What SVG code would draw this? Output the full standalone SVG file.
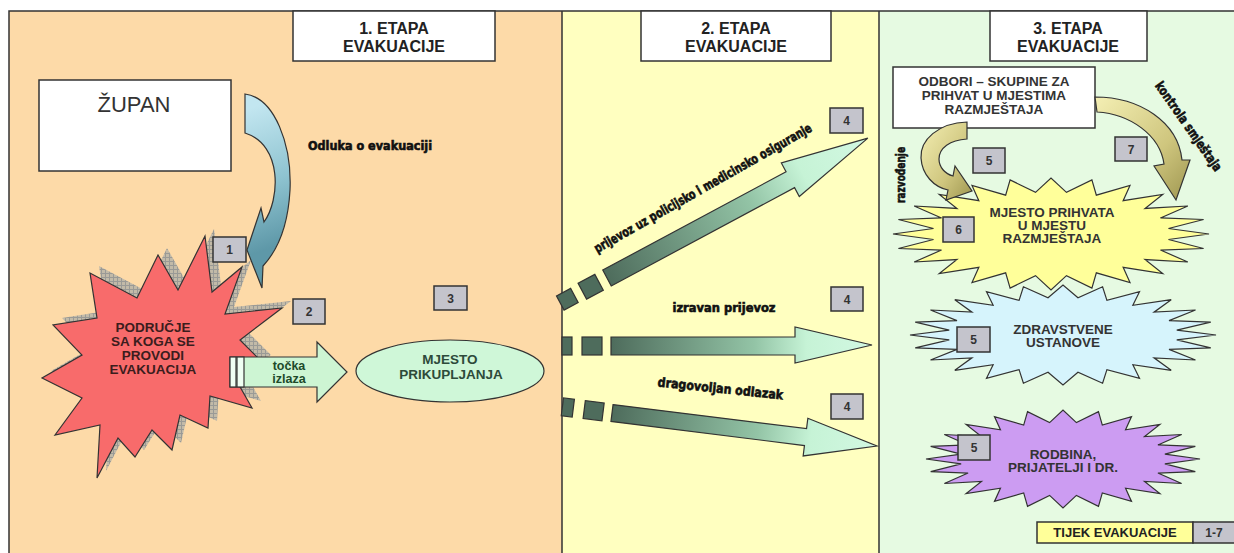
<svg xmlns="http://www.w3.org/2000/svg" width="1234" height="553" viewBox="0 0 1234 553">
<defs>
<style>
.pl{stroke:#333;stroke-width:1.5;fill:none}
.hb{fill:#fff;stroke:#333;stroke-width:1.5}
.ht{font-family:"Liberation Sans",Arial,sans-serif;font-weight:bold;font-size:16px;fill:#222;text-anchor:middle}
.nb{fill:#C4C4CC;stroke:#333;stroke-width:1.5}
.nt{font-family:"Liberation Sans",Arial,sans-serif;font-weight:bold;font-size:12px;fill:#333;text-anchor:middle}
.lb{font-family:"Liberation Sans Narrow","DejaVu Sans Condensed","Liberation Sans",sans-serif;font-weight:bold;font-size:13px;fill:#111;stroke:#111;stroke-width:0.6}
.st{font-family:"Liberation Sans",Arial,sans-serif;font-weight:bold;font-size:13.5px;text-anchor:middle;fill:#333}
.ol{stroke:#333;stroke-width:1.2;stroke-linejoin:miter}
</style>
<path id="star" vector-effect="non-scaling-stroke" stroke="#333" stroke-width="1.2" d="M1,0 L.7436,.0979 L.9659,.2588 L.6929,.287 L.866,.5 L.595,.4566 L.7071,.7071 L.4566,.595 L.5,.866 L.287,.6929 L.2588,.9659 L.0979,.7436 L0,1 L-.0979,.7436 L-.2588,.9659 L-.287,.6929 L-.5,.866 L-.4566,.595 L-.7071,.7071 L-.595,.4566 L-.866,.5 L-.6929,.287 L-.9659,.2588 L-.7436,.0979 L-1,0 L-.7436,-.0979 L-.9659,-.2588 L-.6929,-.287 L-.866,-.5 L-.595,-.4566 L-.7071,-.7071 L-.4566,-.595 L-.5,-.866 L-.287,-.6929 L-.2588,-.9659 L-.0979,-.7436 L0,-1 L.0979,-.7436 L.2588,-.9659 L.287,-.6929 L.5,-.866 L.4566,-.595 L.7071,-.7071 L.595,-.4566 L.866,-.5 L.6929,-.287 L.9659,-.2588 L.7436,-.0979 Z"/>
<path id="redstar" d="M205,236 L212,292 L242,267 L225,314 L282,308 L240,340 L262,362 L235,378 L252,408 L210,396 L208,428 L180,415 L172,450 L152,430 L135,457 L118,438 L97,478 L100,425 L55,435 L82,398 L42,378 L82,355 L53,325 L97,318 L90,273 L137,298 L158,255 L178,290 Z"/>
<pattern id="hatch" width="4" height="4" patternUnits="userSpaceOnUse">
<rect width="4" height="4" fill="#C2BAA8"/>
<path d="M0,0.5 H4 M0.5,0 V4" stroke="#9A9A96" stroke-width="1"/>
</pattern>
<linearGradient id="gBlue" gradientUnits="userSpaceOnUse" x1="245" y1="110" x2="292" y2="240">
<stop offset="0" stop-color="#C2E6F0"/><stop offset="0.55" stop-color="#8EC3D0"/><stop offset="1" stop-color="#5E98A8"/>
</linearGradient>
<linearGradient id="gDiag" gradientUnits="userSpaceOnUse" x1="0" y1="0" x2="296" y2="0">
<stop offset="0" stop-color="#4E6C5C"/><stop offset="0.55" stop-color="#93C4A6"/><stop offset="0.75" stop-color="#C6F3D6"/><stop offset="1" stop-color="#D2F8E2"/>
</linearGradient>
<linearGradient id="gMid" gradientUnits="userSpaceOnUse" x1="611" y1="0" x2="872" y2="0">
<stop offset="0" stop-color="#4E6C5C"/><stop offset="0.55" stop-color="#93C4A6"/><stop offset="0.75" stop-color="#C6F3D6"/><stop offset="1" stop-color="#D2F8E2"/>
</linearGradient>
<linearGradient id="gLow" gradientUnits="userSpaceOnUse" x1="0" y1="0" x2="267" y2="0">
<stop offset="0" stop-color="#4E6C5C"/><stop offset="0.55" stop-color="#93C4A6"/><stop offset="0.75" stop-color="#C6F3D6"/><stop offset="1" stop-color="#D2F8E2"/>
</linearGradient>
<linearGradient id="gYel" x1="0" y1="0" x2="1" y2="1">
<stop offset="0" stop-color="#F4EFB4"/><stop offset="0.6" stop-color="#CFC67E"/><stop offset="1" stop-color="#9E9650"/>
</linearGradient>
</defs>

<!-- panels -->
<g id="panels">
<rect x="9" y="11" width="553" height="545" fill="#FDDAA8"/>
<rect x="562" y="11" width="317" height="545" fill="#FFFFC0"/>
<rect x="879" y="11" width="360" height="545" fill="#E6FAE2"/>
<path class="pl" d="M9,556 V11 H1240 M562,11 V556 M879,11 V556"/>
</g>

<g id="stage1"><rect class="hb" x="293" y="11" width="202" height="50"/><text class="ht" x="394" y="34">1. ETAPA</text><text class="ht" x="394" y="52">EVAKUACIJE</text></g>
<g id="stage2"><rect class="hb" x="641" y="11" width="190" height="50"/><text class="ht" x="736" y="34">2. ETAPA</text><text class="ht" x="736" y="52">EVAKUACIJE</text></g>
<g id="stage3"><rect class="hb" x="990" y="11" width="157" height="50"/><text class="ht" x="1068" y="34">3. ETAPA</text><text class="ht" x="1068" y="52">EVAKUACIJE</text></g>

<g id="zupan"><rect class="hb" x="39" y="80" width="192" height="91"/><text x="134" y="112" font-family="Liberation Sans, Arial, sans-serif" font-size="22" fill="#333" text-anchor="middle">ŽUPAN</text></g>

<!-- area star -->
<g id="area">
<use href="#redstar" transform="translate(9,-7)" fill="url(#hatch)"/>
<use href="#redstar" fill="#F86B6B" class="ol"/>
<g font-family="Liberation Sans, Arial, sans-serif" font-weight="bold" font-size="13.5" fill="#3B1D1D" text-anchor="middle">
<text x="153" y="332">PODRUČJE</text><text x="153" y="346">SA KOGA SE</text><text x="153" y="360">PROVODI</text><text x="153" y="374">EVAKUACIJA</text>
</g>
</g>

<g id="box1"><rect class="nb" x="213" y="237" width="33" height="25"/><text class="nt" x="229.5" y="254">1</text></g>
<g id="box2"><rect class="nb" x="293" y="299" width="32" height="25" fill="#BCBCCC"/><text class="nt" x="309" y="316">2</text></g>
<g id="box3"><rect class="nb" x="434" y="286" width="33" height="24"/><text class="nt" x="450.5" y="303">3</text></g>

<g id="gathering"><ellipse cx="450" cy="371" rx="94" ry="31" fill="#CFF7D8" class="ol"/>
<g font-family="Liberation Sans, Arial, sans-serif" font-weight="bold" font-size="13.5" fill="#2D4A3A" text-anchor="middle"><text x="450" y="364">MJESTO</text><text x="451" y="379">PRIKUPLJANJA</text></g></g>

<!-- panel 3 nodes -->
<g id="odbori"><rect class="hb" x="893" y="67" width="202" height="61"/>
<g font-family="Liberation Sans, Arial, sans-serif" font-weight="bold" font-size="13.5" fill="#333" text-anchor="middle"><text x="994" y="86">ODBORI – SKUPINE ZA</text><text x="994" y="100">PRIHVAT U MJESTIMA</text><text x="994" y="114">RAZMJEŠTAJA</text></g></g>

<g id="prihvat"><use href="#star" transform="translate(1051,234) scale(158,56)" fill="#FFFF9A"/>
<text class="st" x="1052" y="217">MJESTO PRIHVATA</text><text class="st" x="1052" y="230">U MJESTU</text><text class="st" x="1052" y="243">RAZMJEŠTAJA</text></g>

<g id="zdravstvene"><use href="#star" transform="translate(1063,335) scale(153,50)" fill="#D6F4FC"/>
<text class="st" x="1063" y="334">ZDRAVSTVENE</text><text class="st" x="1063" y="347">USTANOVE</text></g>

<g id="rodbina"><use href="#star" transform="translate(1063,459) scale(137,49)" fill="#CC9CF2"/>
<text class="st" x="1063" y="459">RODBINA,</text><text class="st" x="1063" y="472">PRIJATELJI I DR.</text></g>

<!-- connectors -->
<g id="connectors">
<path d="M245,94 C275,98 292,145 290,190 C288,228 276,252 263,266 L262,288 L247,250 L261,208 L264,222 C280,200 283,145 245,133 Z" fill="url(#gBlue)" class="ol"/>
<text class="lb" x="308" y="150" textLength="124" lengthAdjust="spacingAndGlyphs">Odluka o evakuaciji</text>

<path d="M230,357 L317,357 L317,342 L347,372 L317,402 L317,387 L230,387 Z" fill="#CDF5D3" class="ol"/>
<rect x="230" y="357" width="6" height="30" fill="#EFFFF3" class="ol"/>
<rect x="237" y="357" width="7" height="30" fill="#EFFFF3" class="ol"/>
<g font-family="Liberation Sans, Arial, sans-serif" font-weight="bold" font-size="12.5" fill="#1D4A2A" text-anchor="middle"><text x="289" y="370">točka</text><text x="289" y="383">izlaza</text></g>

<g transform="translate(607,278) rotate(-28.2)">
<rect x="-53" y="-8" width="16" height="16" fill="#4E6C5C" class="ol"/>
<rect x="-28" y="-9" width="19" height="18" fill="#4E6C5C" class="ol"/>
<path d="M0,-9 L208,-9 L208,-19 L296,0 L208,19 L208,9 L0,9 Z" fill="url(#gDiag)" class="ol"/>
</g>
<text class="lb" x="705" y="192" text-anchor="middle" textLength="248" lengthAdjust="spacingAndGlyphs" transform="rotate(-29.6,705,192)">prijevoz uz policijsko i medicinsko osiguranje</text>

<rect x="562" y="337" width="10" height="18" fill="#4E6C5C" class="ol"/>
<rect x="582" y="337" width="20" height="18" fill="#4E6C5C" class="ol"/>
<path d="M611,337 L795,337 L795,327 L872,345 L795,363 L795,355 L611,355 Z" fill="url(#gMid)" class="ol"/>
<text class="lb" x="724" y="312" text-anchor="middle" textLength="103" lengthAdjust="spacingAndGlyphs">izravan prijevoz</text>

<g transform="translate(612,413) rotate(7.1)">
<rect x="-50" y="-9" width="11" height="18" fill="#4E6C5C" class="ol"/>
<rect x="-28" y="-9" width="19" height="18" fill="#4E6C5C" class="ol"/>
<path d="M0,-8.5 L195,-8.5 L195,-19 L267,0 L195,19 L195,8.5 L0,8.5 Z" fill="url(#gLow)" class="ol"/>
</g>
<text class="lb" x="720" y="393" text-anchor="middle" textLength="126" lengthAdjust="spacingAndGlyphs" transform="rotate(6,720,393)">dragovoljan odlazak</text>

<path d="M967,122 C938,123 920,140 921,158 C922,175 934,187 948,190 L946,200 L972,191 L955,166 L953,176 C945,174 939,167 939,159 C939,148 950,140 967,139 Z" fill="url(#gYel)" class="ol"/>
<text class="lb" x="905" y="175" text-anchor="middle" textLength="56" lengthAdjust="spacingAndGlyphs" transform="rotate(-90,905,175)">razvođenje</text>

<path d="M1095,97 C1140,97 1178,122 1182,160 L1190,160 L1176,200 L1154,166 L1164,164 C1160,135 1130,114 1097,112 Z" fill="url(#gYel)" class="ol"/>
<text class="lb" x="1185" y="129" text-anchor="middle" textLength="106" lengthAdjust="spacingAndGlyphs" transform="rotate(55,1185,129)">kontrola smještaja</text>
</g>

<g id="box4a"><rect class="nb" x="830" y="108" width="33" height="25"/><text class="nt" x="846.5" y="125">4</text></g>
<g id="box4b"><rect class="nb" x="831" y="287" width="32" height="24"/><text class="nt" x="847" y="304">4</text></g>
<g id="box4c"><rect class="nb" x="831" y="394" width="32" height="25" fill="#BCBCCC"/><text class="nt" x="847" y="411">4</text></g>
<g id="box5a"><rect class="nb" x="973" y="148" width="32" height="25"/><text class="nt" x="989" y="165">5</text></g>
<g id="box7"><rect class="nb" x="1115" y="137" width="32" height="24"/><text class="nt" x="1131" y="154">7</text></g>
<g id="box6"><rect class="nb" x="943" y="217" width="31" height="25"/><text class="nt" x="958.5" y="234">6</text></g>
<g id="box5b"><rect class="nb" x="957" y="327" width="33" height="25"/><text class="nt" x="973.5" y="344">5</text></g>
<g id="box5c"><rect class="nb" x="958" y="435" width="32" height="25"/><text class="nt" x="974" y="452">5</text></g>

<g id="legend">
<rect x="1037" y="522" width="156" height="21" fill="#FFFF99" stroke="#333" stroke-width="1.5"/>
<rect x="1193" y="522" width="45" height="21" class="nb"/>
<text x="1115" y="537" font-family="Liberation Sans, Arial, sans-serif" font-weight="bold" font-size="13" fill="#222" text-anchor="middle">TIJEK EVAKUACIJE</text>
<text class="nt" x="1214" y="537" font-weight="normal">1-7</text>
</g>
</svg>
